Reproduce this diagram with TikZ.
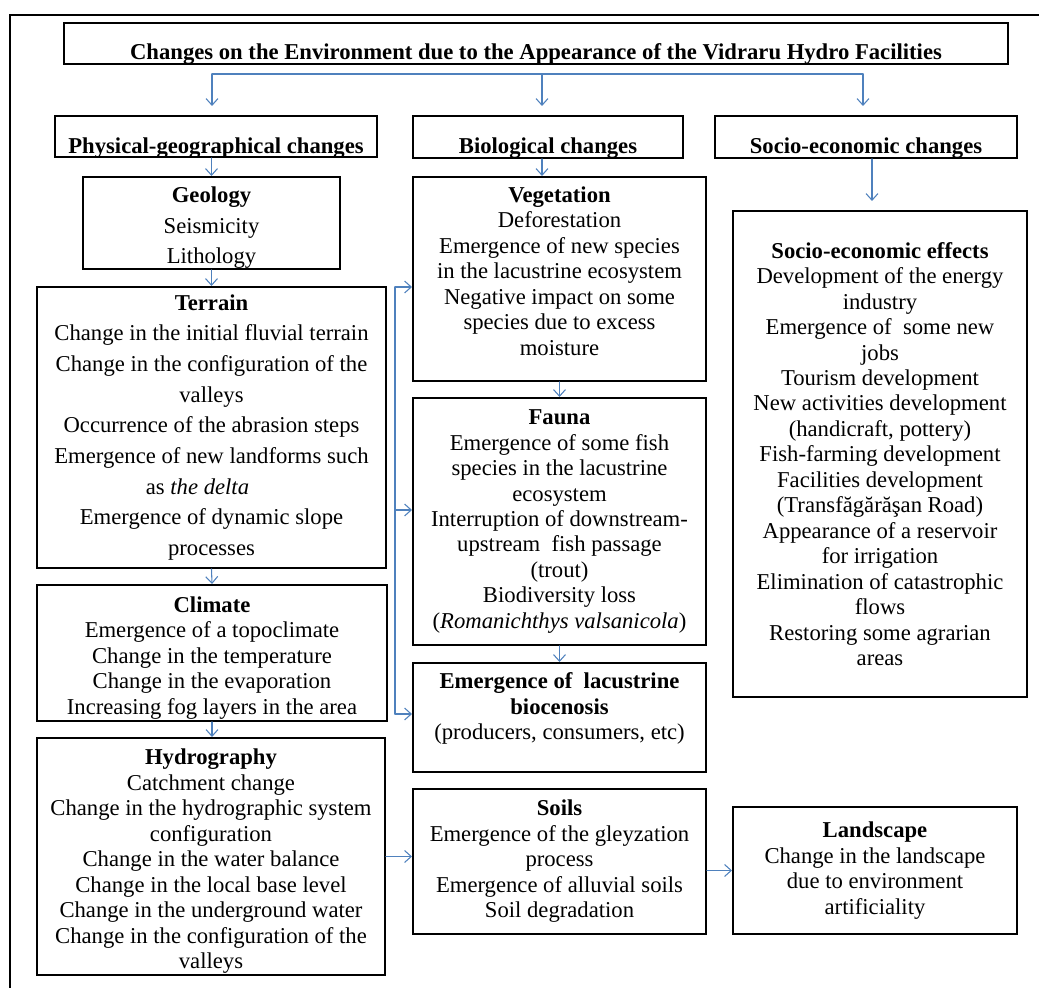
\documentclass[tikz,border=0pt]{standalone}
\usepackage{fontspec}
\setmainfont{Liberation Serif}
\usetikzlibrary{arrows.meta}
\definecolor{linkblue}{RGB}{79,129,189}

\begin{document}
\begin{tikzpicture}[x=0.75pt, y=-0.75pt, line cap=round,
    box/.style={draw=black, line width=1.5pt, inner sep=0pt, align=center, font=\fontsize{17}{19.1}\selectfont},
    widebox/.style={box, font=\fontsize{17}{23}\selectfont},
    headbox/.style={box, font=\bfseries\fontsize{17}{19.1}\selectfont, text height=25.5pt, text depth=0pt},
    linkline/.style={draw=linkblue, line width=0.8pt},
    link/.style={linkline, -{Straight Barb[length=5pt, width=9pt]}}]
    %Frame
    \useasboundingbox (0,0) rectangle (1039,988);
    \draw[line width=1.5pt] (10,1000) -- (10,15) -- (1050,15);

    %Title and main headings
    \node[headbox, minimum width=708pt, minimum height=30.75pt, text height=24pt] (title) at (536,43.5) {Changes on the Environment due to the Appearance of the Vidraru Hydro Facilities};
    \node[headbox, minimum width=241.5pt, minimum height=30.75pt] (phys) at (216,136.5) {Physical-geographical changes};
    \node[headbox, minimum width=202.5pt, minimum height=31.5pt] (bio) at (548,137) {Biological changes};
    \node[headbox, minimum width=226.5pt, minimum height=31.5pt] (socio) at (866,137) {Socio-economic changes};

    %Physical-geographical column
    \node[widebox, minimum width=192.75pt, minimum height=69pt] (geology) at (211.5,223) {\mbox{}\\[-3.9pt] \textbf{Geology}\\ Seismicity\\ Lithology};
    \node[widebox, minimum width=261.75pt, minimum height=210.75pt] (terrain) at (211.5,427.5) {\textbf{Terrain}\\ Change in the initial fluvial terrain\\ Change in the configuration of the\\ valleys\\ Occurrence of the abrasion steps\\ Emergence of new landforms such\\ as \textit{the delta}\mbox{\hspace{21pt}}\\ Emergence of dynamic slope\\ processes};
    \node[box, minimum width=262.5pt, minimum height=102pt] (climate) at (212,653) {\mbox{}\\ \textbf{Climate}\\ Emergence of a topoclimate\\ Change in the temperature\\ Change in the evaporation\\ Increasing fog layers in the area};
    \node[box, minimum width=261pt, minimum height=177.75pt] (hydro) at (211,856.5) {\mbox{}\\ \textbf{Hydrography}\\ Catchment change\\ Change in the hydrographic system\\ configuration\\ Change in the water balance\\ Change in the local base level\\ Change in the underground water\\ Change in the configuration of the\\ valleys};

    %Biological column
    \node[box, minimum width=219.75pt, minimum height=153pt] (veg) at (559.5,279) {\textbf{Vegetation}\\ Deforestation\\ Emergence of new species\\ in the lacustrine ecosystem\\ Negative impact on some\\ species due to excess\\ moisture\\[-7.1pt] \mbox{}};
    \node[box, minimum width=219.75pt, minimum height=185.25pt] (fauna) at (559.5,521.5) {\textbf{Fauna}\\ Emergence of some fish\\ species in the lacustrine\\ ecosystem\\ Interruption of downstream-\\ upstream\ \ fish passage\\ (trout)\\ Biodiversity loss\\ (\textit{Romanichthys valsanicola})};
    \node[box, minimum width=219.75pt, minimum height=81.75pt] (lacus) at (559.5,717.5) {\textbf{Emergence of\ \ lacustrine}\\ \textbf{biocenosis}\\ (producers, consumers, etc)\\[-1.9pt] \mbox{}};
    \node[box, minimum width=219.75pt, minimum height=108.75pt] (soils) at (559.5,861.5) {\textbf{Soils}\\ Emergence of the gleyzation\\ process\\ Emergence of alluvial soils\\ Soil degradation};

    %Socio-economic column
    \node[box, minimum width=220.5pt, minimum height=364.5pt] (effects) at (880,454) {\textbf{Socio-economic effects}\\ Development of the energy\\ industry\\ Emergence of\ \ some new\\ jobs\\ Tourism development\\ New activities development\\ (handicraft, pottery)\\ Fish-farming development\\ Facilities development\\ (Transfăgărăşan Road)\\ Appearance of a reservoir\\ for irrigation\\ Elimination of catastrophic\\ flows\\ Restoring some agrarian\\ areas};
    \node[box, minimum width=213pt, minimum height=95.25pt] (landscape) at (875,870.5) {\textbf{Landscape}\\ Change in the landscape\\ due to environment\\ artificiality};

    %Fork under the title
    \coordinate (forkL) at (212,74);
    \coordinate (forkM) at (542,74);
    \coordinate (forkR) at (863,74);
    \draw[linkline] (forkL) -- (forkR);
    \draw[link, shorten >=6.75pt] (forkL) -- (forkL |- phys.north);
    \draw[link, shorten >=6.75pt] (forkM) -- (forkM |- bio.north);
    \draw[link, shorten >=6.75pt] (forkR) -- (forkR |- socio.north);

    %Arrows down the columns
    \draw[link] (geology.north |- phys.south) -- (geology.north);
    \draw[link] (geology.south) -- (terrain.north);
    \draw[link] (terrain.south) -- (climate.north);
    \draw[link] (climate.south) -- (climate.south |- hydro.north);
    \draw[link] (forkM |- bio.south) -- (forkM |- veg.north);
    \draw[link] (veg.south) -- (fauna.north);
    \draw[link] (fauna.south) -- (lacus.north);
    \draw[link, shorten >=6.75pt] ([xshift=4.5pt]socio.south) -- ([xshift=4.5pt]socio.south |- effects.north);

    %Bracket from the terrain side
    \coordinate (br1) at (395,287);
    \coordinate (br2) at (395,510);
    \coordinate (br3) at (395,714);
    \draw[linkline] (br1) -- (br3);
    \draw[link] (br1) -- (br1 -| veg.west);
    \draw[link] (br2) -- (br2 -| fauna.west);
    \draw[link] (br3) -- (br3 -| lacus.west);

    %Side arrows
    \draw[link] (hydro.east) -- (hydro.east -| soils.west);
    \draw[link] (landscape.west -| soils.east) -- (landscape.west);
\end{tikzpicture}
\end{document}
